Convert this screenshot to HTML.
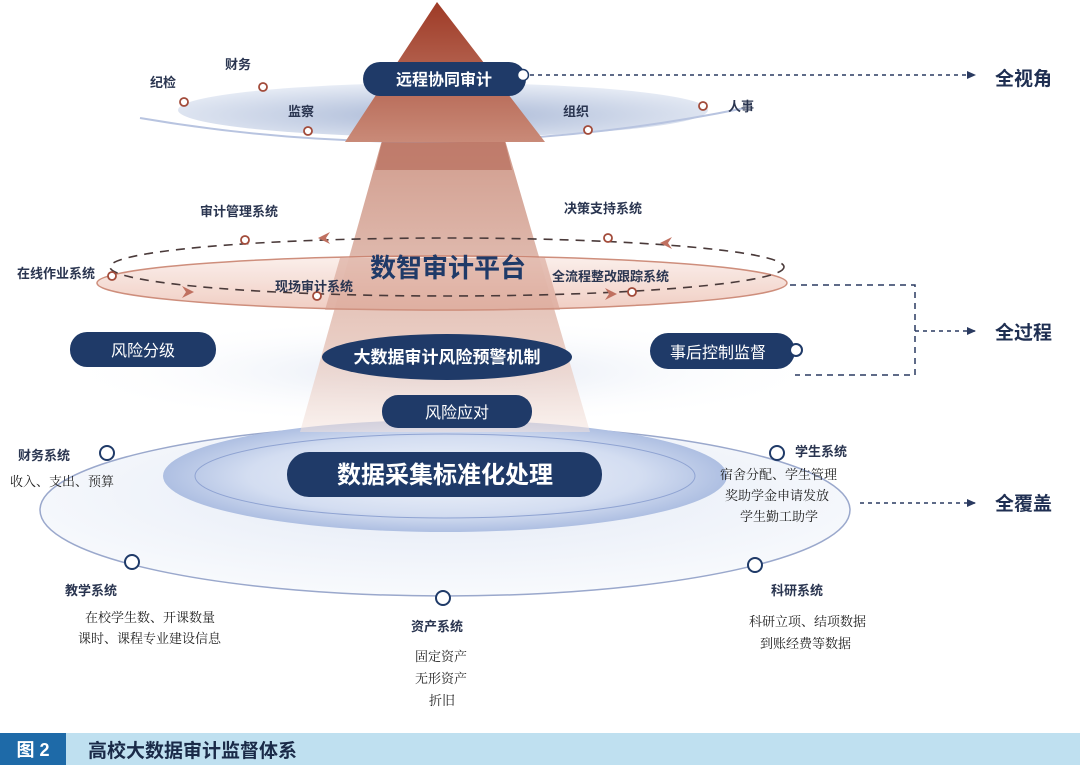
<!DOCTYPE html>
<html><head><meta charset="utf-8"><style>
body{margin:0;background:#fff}
svg{display:block}
text{font-family:"Liberation Sans","Noto Sans CJK SC",sans-serif}
.lb{font-size:13px;font-weight:bold;fill:#2a3550}
.sf{font-family:"Liberation Serif","Noto Serif CJK SC",serif;font-size:13px;fill:#222}
.big{font-size:19px;font-weight:bold;fill:#1f2f52}
</style></head><body>
<svg width="1080" height="765" viewBox="0 0 1080 765" xmlns="http://www.w3.org/2000/svg">
<defs>
<linearGradient id="tri" x1="0" y1="0" x2="0" y2="1"><stop offset="0" stop-color="#9e3a26"/><stop offset="1" stop-color="#c98a78"/></linearGradient>
<linearGradient id="sh" x1="0" y1="0" x2="0" y2="1"><stop offset="0" stop-color="#c88a78"/><stop offset="0.7" stop-color="#e6c5ba"/><stop offset="1" stop-color="#f3e2dc" stop-opacity="0.6"/></linearGradient>
<radialGradient id="topE" cx="0.5" cy="0.6" r="0.6"><stop offset="0" stop-color="#a9b8d6"/><stop offset="1" stop-color="#e8edf6"/></radialGradient>
<linearGradient id="pinkE" x1="0" y1="0" x2="0" y2="1"><stop offset="0" stop-color="#fbeeea"/><stop offset="1" stop-color="#efc9bd"/></linearGradient>
<radialGradient id="risk" cx="0.5" cy="0.5" r="0.5"><stop offset="0" stop-color="#dfe6f3"/><stop offset="1" stop-color="#ffffff" stop-opacity="0"/></radialGradient>
<radialGradient id="inner" cx="0.5" cy="0.5" r="0.5"><stop offset="0" stop-color="#f2f5fb"/><stop offset="0.7" stop-color="#d3ddf1"/><stop offset="1" stop-color="#aebfe2"/></radialGradient>
<radialGradient id="bot" cx="0.5" cy="0.4" r="0.6"><stop offset="0" stop-color="#e3e9f5"/><stop offset="1" stop-color="#f8fafd"/></radialGradient>
<marker id="ar" markerUnits="userSpaceOnUse" markerWidth="10" markerHeight="10" refX="8" refY="5" orient="auto"><path d="M0,1L9,5L0,9z" fill="#2a3a60"/></marker>
</defs>

<ellipse cx="443" cy="372" rx="390" ry="55" fill="url(#risk)"/>
<ellipse cx="445" cy="510" rx="405" ry="86" fill="url(#bot)" stroke="#9aa8cc" stroke-width="1.5"/>
<ellipse cx="445" cy="476" rx="282" ry="56" fill="url(#inner)"/>
<ellipse cx="445" cy="476" rx="250" ry="42" fill="none" stroke="#8fa3d2" stroke-width="1"/>

<polygon points="382,140 505,140 590,432 300,432" fill="url(#sh)" opacity="0.85"/>
<ellipse cx="443" cy="110" rx="265" ry="27" fill="url(#topE)"/>
<path d="M140,118 Q443,170 745,108" fill="none" stroke="#b8c4e0" stroke-width="2"/>
<polygon points="437,2 545,142 345,142" fill="url(#tri)"/>
<polygon points="382,142 505,142 512,170 375,170" fill="#b86e5c" opacity="0.7"/>

<rect x="363" y="62" width="163" height="34" rx="17" fill="#1f3a68"/>
<text x="444" y="85" text-anchor="middle" font-size="16" font-weight="bold" fill="#fff">远程协同审计</text>
<circle cx="523" cy="75" r="5.5" fill="#fff" stroke="#1f3a68" stroke-width="1.5"/>
<line x1="530" y1="75" x2="975" y2="75" stroke="#2a3a60" stroke-width="1.5" stroke-dasharray="4,4" marker-end="url(#ar)"/>
<text x="995" y="85" class="big">全视角</text>
<text x="150" y="87" class="lb">纪检</text>
<text x="225" y="69" class="lb">财务</text>
<text x="288" y="116" class="lb">监察</text>
<text x="563" y="116" class="lb">组织</text>
<text x="728" y="111" class="lb">人事</text>
<g fill="#fff" stroke="#a24b3a" stroke-width="1.8">
<circle cx="184" cy="102" r="4"/><circle cx="263" cy="87" r="4"/><circle cx="308" cy="131" r="4"/><circle cx="588" cy="130" r="4"/><circle cx="703" cy="106" r="4"/>
</g>

<ellipse cx="442" cy="283" rx="345" ry="27" fill="url(#pinkE)" stroke="#c9826e" stroke-width="1.5" opacity="0.9"/>
<polygon points="340,258 545,258 560,310 325,310" fill="#d49b8a" opacity="0.55"/>
<ellipse cx="447" cy="267" rx="337" ry="29" fill="none" stroke="#4a3a3a" stroke-width="1.6" stroke-dasharray="9,7"/>
<path d="M318,238 l12,-6 l-4,6 l4,6z" fill="#c07060"/>
<path d="M660,243 l12,-6 l-4,6 l4,6z" fill="#c07060"/>
<path d="M194,292 l-12,-6 l4,6 l-4,6z" fill="#c07060"/>
<path d="M617,294 l-12,-6 l4,6 l-4,6z" fill="#c07060"/>
<g fill="#fff" stroke="#a24b3a" stroke-width="1.8">
<circle cx="245" cy="240" r="4"/><circle cx="608" cy="238" r="4"/><circle cx="112" cy="276" r="4"/><circle cx="317" cy="296" r="4"/><circle cx="632" cy="292" r="4"/>
</g>
<text x="200" y="216" class="lb">审计管理系统</text>
<text x="564" y="213" class="lb">决策支持系统</text>
<text x="17" y="278" class="lb">在线作业系统</text>
<text x="275" y="291" class="lb">现场审计系统</text>
<text x="552" y="281" class="lb">全流程整改跟踪系统</text>
<text x="448" y="277" text-anchor="middle" font-size="26" font-weight="bold" fill="#1f3a68">数智审计平台</text>
<path d="M790,285 H915 V375 H795" fill="none" stroke="#2a3a60" stroke-width="1.5" stroke-dasharray="6,5"/>
<line x1="915" y1="331" x2="975" y2="331" stroke="#2a3a60" stroke-width="1.5" stroke-dasharray="4,4" marker-end="url(#ar)"/>
<text x="995" y="339" class="big">全过程</text>

<rect x="70" y="332" width="146" height="35" rx="17" fill="#1f3a68"/>
<text x="143" y="356" text-anchor="middle" font-size="16" fill="#fff">风险分级</text>
<ellipse cx="447" cy="357" rx="125" ry="23" fill="#1f3a68"/>
<text x="447" y="363" text-anchor="middle" font-size="17" font-weight="bold" fill="#fff">大数据审计风险预警机制</text>
<rect x="650" y="333" width="145" height="36" rx="18" fill="#1f3a68"/>
<text x="718" y="358" text-anchor="middle" font-size="16" fill="#fff">事后控制监督</text>
<circle cx="796" cy="350" r="6" fill="#fff" stroke="#1f3a68" stroke-width="2"/>
<rect x="382" y="395" width="150" height="33" rx="16" fill="#1f3a68"/>
<text x="457" y="418" text-anchor="middle" font-size="16" fill="#fff">风险应对</text>

<rect x="287" y="452" width="315" height="45" rx="22" fill="#1f3a68"/>
<text x="445" y="483" text-anchor="middle" font-size="24" font-weight="bold" fill="#fff">数据采集标准化处理</text>
<g fill="#fff" stroke="#1f3a68" stroke-width="2">
<circle cx="107" cy="453" r="7"/><circle cx="777" cy="453" r="7"/><circle cx="132" cy="562" r="7"/><circle cx="755" cy="565" r="7"/><circle cx="443" cy="598" r="7"/>
</g>
<text x="18" y="460" class="lb" font-size="14">财务系统</text>
<text x="10" y="486" class="sf">收入、支出、预算</text>
<text x="795" y="456" class="lb" font-size="14">学生系统</text>
<text x="720" y="479" class="sf">宿舍分配、学生管理</text>
<text x="725" y="500" class="sf">奖助学金申请发放</text>
<text x="740" y="521" class="sf">学生勤工助学</text>
<line x1="860" y1="503" x2="975" y2="503" stroke="#2a3a60" stroke-width="1.5" stroke-dasharray="4,4" marker-end="url(#ar)"/>
<text x="995" y="510" class="big">全覆盖</text>
<text x="65" y="595" class="lb" font-size="14">教学系统</text>
<text x="85" y="622" class="sf">在校学生数、开课数量</text>
<text x="78" y="643" class="sf">课时、课程专业建设信息</text>
<text x="411" y="631" class="lb" font-size="14">资产系统</text>
<text x="415" y="661" class="sf">固定资产</text>
<text x="415" y="683" class="sf">无形资产</text>
<text x="429" y="705" class="sf">折旧</text>
<text x="771" y="595" class="lb" font-size="14">科研系统</text>
<text x="749" y="626" class="sf">科研立项、结项数据</text>
<text x="760" y="648" class="sf">到账经费等数据</text>

<rect x="0" y="733" width="1080" height="32" fill="#bfe0f0"/>
<rect x="0" y="733" width="66" height="32" fill="#1e6aa8"/>
<text x="33" y="756" text-anchor="middle" font-size="18" font-weight="bold" fill="#fff">图 2</text>
<text x="88" y="757" font-size="19" font-weight="bold" fill="#1a2a48">高校大数据审计监督体系</text>
</svg>
</body></html>
